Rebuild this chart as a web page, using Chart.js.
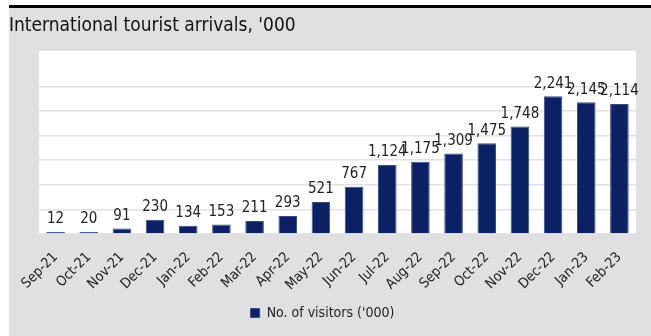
<!DOCTYPE html>
<html>
<head>
<meta charset="utf-8">
<script src="https://cdn.jsdelivr.net/npm/chart.js@4"></script>
<style>
  html, body { margin: 0; padding: 0; background: #fff; }
  #wrap { width: 651px; height: 336px; }
</style>
</head>
<body>
<div id="wrap"><canvas id="arrivalsChart" width="651" height="336"></canvas></div>
<script>
const months = ['Sep-21', 'Oct-21', 'Nov-21', 'Dec-21', 'Jan-22', 'Feb-22', 'Mar-22', 'Apr-22', 'May-22',
    'Jun-22', 'Jul-22', 'Aug-22', 'Sep-22', 'Oct-22', 'Nov-22', 'Dec-22', 'Jan-23', 'Feb-23'];
const visitors = [12, 20, 91, 230, 134, 153, 211, 293, 521, 767, 1124, 1175, 1309, 1475, 1748, 2241, 2145, 2114];
const seriesName = "No. of visitors ('000)";
const chartTitle = "International tourist arrivals, '000";

const FONT = '"Liberation Sans Narrow", "DejaVu Sans Condensed", "Open Sans", sans-serif';
Chart.defaults.font.family = FONT;
Chart.defaults.color = '#222';

// page frame: black rule, grey panel, white plot area
const framePlugin = {
    id: 'frame',
    beforeDraw(chart) {
        const ctx = chart.ctx;
        const a = chart.chartArea;
        ctx.save();
        ctx.fillStyle = '#fff';
        ctx.fillRect(0, 0, chart.width, chart.height);
        ctx.fillStyle = '#e0e0e0';
        ctx.fillRect(9, 7, chart.width - 9, chart.height - 7);
        ctx.fillStyle = '#000';
        ctx.fillRect(9, 5, chart.width - 9, 3);
        ctx.fillStyle = '#fff';
        ctx.fillRect(a.left, a.top, a.right - a.left, a.bottom - a.top);
        ctx.restore();
    }
};

// value labels above each bar
const valueLabels = {
    id: 'valueLabels',
    afterDatasetsDraw(chart) {
        const ctx = chart.ctx;
        const meta = chart.getDatasetMeta(0);
        ctx.save();
        ctx.font = '15px ' + FONT;
        ctx.fillStyle = '#222';
        ctx.textAlign = 'center';
        ctx.textBaseline = 'bottom';
        meta.data.forEach((bar, i) => {
            ctx.fillText(visitors[i].toLocaleString('en-US'), bar.x, bar.y - 5);
        });
        ctx.restore();
    }
};

new Chart(document.getElementById('arrivalsChart'), {
    type: 'bar',
    data: {
        labels: months,
        datasets: [{
            label: seriesName,
            data: visitors,
            backgroundColor: '#0c2064',
            borderColor: '#3b4c86',
            borderWidth: 1,
            minBarLength: 2,
            barPercentage: 0.56,
            categoryPercentage: 1
        }]
    },
    options: {
        responsive: false,
        animation: false,
        layout: { padding: { left: 9, right: 15, top: 8, bottom: 6 } },
        plugins: {
            title: {
                display: true,
                text: chartTitle,
                align: 'start',
                color: '#111',
                font: { size: 19, weight: 'normal' },
                padding: { top: 7, bottom: 13 }
            },
            legend: {
                position: 'bottom',
                labels: {
                    boxWidth: 9,
                    boxHeight: 9,
                    color: '#222',
                    font: { size: 14 },
                    padding: 10
                }
            },
            tooltip: { enabled: false }
        },
        scales: {
            x: {
                grid: { display: false },
                border: { display: false },
                ticks: {
                    minRotation: 45,
                    maxRotation: 45,
                    autoSkip: false,
                    color: '#222',
                    font: { size: 14 },
                    padding: 7
                },
                afterFit(scale) { scale.height = 62; }
            },
            y: {
                min: 0,
                max: 2980,
                border: { display: false },
                grid: { color: '#e2e2e2', lineWidth: 1.5 },
                ticks: { display: false, stepSize: 400 },
                afterBuildTicks(scale) {
                    scale.ticks = scale.ticks.filter(t => t.value % 400 === 0);
                },
                afterFit(scale) { scale.width = 30; }
            }
        }
    },
    plugins: [framePlugin, valueLabels]
});
</script>
</body>
</html>
